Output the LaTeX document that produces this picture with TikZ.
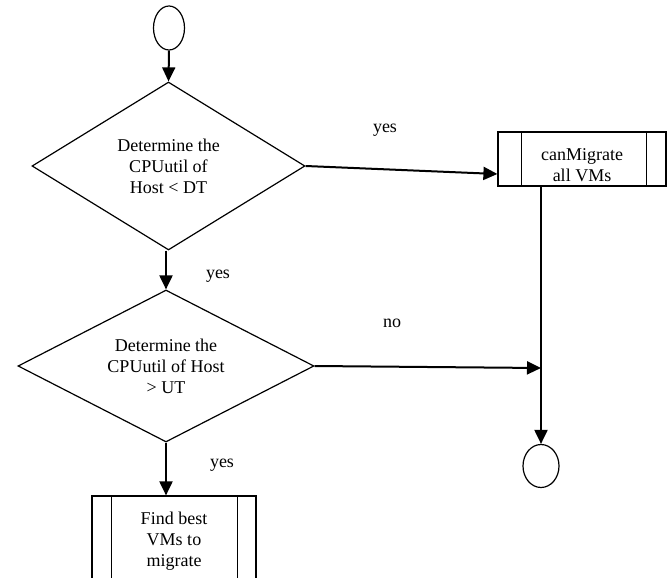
\documentclass[tikz,border=0pt]{standalone}
\usepackage{fontspec}
\setmainfont{Liberation Serif}
\usetikzlibrary{shapes.geometric,arrows.meta,calc}
\begin{document}
\begin{tikzpicture}[x=1pt,y=-1pt,
  every node/.style={font=\fontsize{18}{21}\selectfont},
  dia/.style={diamond,draw,line width=1.2pt,align=center,inner sep=0pt},
  term/.style={ellipse,draw,line width=1.2pt,inner sep=0pt},
  proc/.style={rectangle,draw,line width=1.2pt,align=center,inner sep=0pt},
  arr/.style={line width=2pt,-{Triangle[length=14pt,width=13pt]}},
  lbl/.style={inner sep=0pt}]
\clip (0,0) rectangle (672,578);
\node[term,minimum width=31pt,minimum height=44pt] (s) at (169,28) {};
\node[dia,aspect=1.625,minimum width=273pt,minimum height=168pt] (d1) at (168.5,166) {Determine the\\CPUutil of\\Host < DT};
\node[dia,aspect=1.95,minimum width=296pt,minimum height=152pt] (d2) at (166,366) {Determine the\\CPUutil of Host\\> UT};
\node[proc,minimum width=168pt,minimum height=54pt] (b1) at (582,159) {\raisebox{-22pt}[0pt][0pt]{\begin{tabular}[b]{@{}c@{}}canMigrate\\all VMs\end{tabular}}};
\draw[line width=1.2pt] ($(b1.north west)+(24,0)$) -- ($(b1.south west)+(24,0)$);
\draw[line width=1.2pt] ($(b1.north east)+(-20,0)$) -- ($(b1.south east)+(-20,0)$);
\node[proc,minimum width=164pt,minimum height=90pt] (b2) at (174,541) {Find best\\VMs to\\migrate};
\draw[line width=1.2pt] ($(b2.north west)+(20,0)$) -- ($(b2.south west)+(20,0)$);
\draw[line width=1.2pt] ($(b2.north east)+(-19,0)$) -- ($(b2.south east)+(-19,0)$);
\node[term,minimum width=36pt,minimum height=43pt] (e) at (541,466) {};
\coordinate (j) at (541,368);
\draw[arr] (s.south) -- (d1.north);
\draw[arr] (d1.east) -- ($(b1.west)+(0,15)$);
\draw[arr] (d1.south -| d2.north) -- (d2.north);
\draw[arr] (d2.east) -- (j);
\draw[arr] (j |- b1.south) -- (e.north);
\draw[arr] (d2.south) -- (d2.south |- b2.north);
\node[lbl] (l1) at (385,130) {yes};
\node[lbl] (l2) at (218,276) {yes};
\node[lbl] (l3) at (392,323) {no};
\node[lbl] (l4) at (222,465) {yes};
\end{tikzpicture}
\end{document}
